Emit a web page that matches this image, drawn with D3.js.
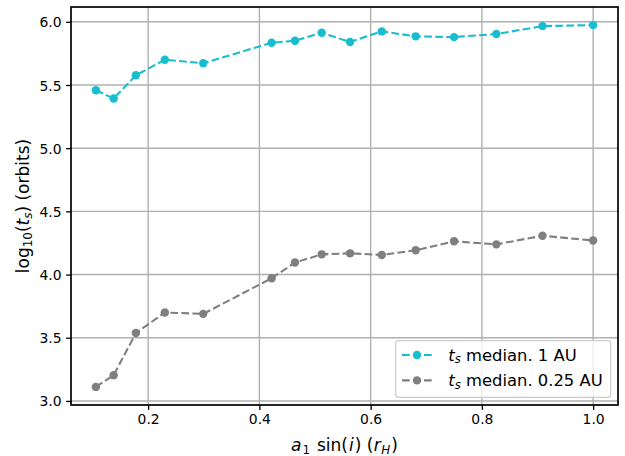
<!DOCTYPE html>
<html><head><meta charset="utf-8">
<script src="https://cdn.jsdelivr.net/npm/d3@7"></script>
<style>body{margin:0;background:#fff}svg{display:block}text{font-family:"DejaVu Sans",sans-serif}</style>
</head><body><svg id="c" width="625" height="456"></svg>
<script>
const xValues = [0.106, 0.138, 0.178, 0.230, 0.299, 0.422, 0.464, 0.512, 0.563, 0.620, 0.681, 0.750, 0.826, 0.909, 1.0];
const series1AU = [5.459, 5.393, 5.577, 5.700, 5.672, 5.834, 5.850, 5.913, 5.840, 5.924, 5.885, 5.879, 5.903, 5.966, 5.974];
const series025AU = [3.111, 3.204, 3.537, 3.700, 3.689, 3.971, 4.095, 4.160, 4.168, 4.155, 4.192, 4.263, 4.239, 4.307, 4.270];
const xTicks = [0.2, 0.4, 0.6, 0.8, 1.0];
const yTicks = [3.0, 3.5, 4.0, 4.5, 5.0, 5.5, 6.0];
const seriesNames = ["median. 1 AU", "median. 0.25 AU"];
const colors = ["#17becf", "#7f7f7f"];

const svg = d3.select("#c");
const L = 71, R = 618, T = 7, B = 405;
const pad = (a, b) => { const m = (b - a) * 0.05; return [a - m, b + m]; };
const x = d3.scaleLinear().domain(pad(d3.min(xValues), d3.max(xValues))).range([L, R]);
const allY = series1AU.concat(series025AU);
const y = d3.scaleLinear().domain(pad(d3.min(allY), d3.max(allY))).range([B, T]);

// grid
const g = svg.append("g");
g.selectAll(".gx").data(xTicks).enter().append("line")
  .attr("x1", d => x(d)).attr("x2", d => x(d)).attr("y1", T).attr("y2", B)
  .attr("stroke", "#b0b0b0").attr("stroke-width", 1.4);
g.selectAll(".gy").data(yTicks).enter().append("line")
  .attr("y1", d => y(d)).attr("y2", d => y(d)).attr("x1", L).attr("x2", R)
  .attr("stroke", "#b0b0b0").attr("stroke-width", 1.4);

// axes
const xAxis = d3.axisBottom(x).tickValues(xTicks).tickFormat(d3.format(".1f")).tickSize(4.9).tickPadding(4.5);
const yAxis = d3.axisLeft(y).tickValues(yTicks).tickFormat(d3.format(".1f")).tickSize(4.9).tickPadding(4.5);
const gx = svg.append("g").attr("transform", `translate(0,${B})`).call(xAxis);
const gy = svg.append("g").attr("transform", `translate(${L},0)`).call(yAxis);
[gx, gy].forEach(a => {
  a.select(".domain").remove();
  a.selectAll("line").attr("stroke", "#000").attr("stroke-width", 1.3);
  a.selectAll("text").attr("font-size", "13.9px").attr("fill", "#000").style("font-family", "DejaVu Sans");
});
gy.selectAll("text").attr("dy", "0.36em");

// lines
const data = [series1AU, series025AU];
data.forEach((s, i) => {
  const pts = xValues.map((xv, j) => [xv, s[j]]);
  svg.append("path").datum(pts)
    .attr("d", d3.line().x(d => x(d[0])).y(d => y(d[1])))
    .attr("fill", "none").attr("stroke", colors[i]).attr("stroke-width", 2.08)
    .attr("stroke-dasharray", "7.7,3.3");
  svg.selectAll(".p" + i).data(pts).enter().append("circle")
    .attr("cx", d => x(d[0])).attr("cy", d => y(d[1])).attr("r", 4.2)
    .attr("fill", colors[i]);
});

// spines
svg.append("rect").attr("x", L).attr("y", T).attr("width", R - L).attr("height", B - T)
  .attr("fill", "none").attr("stroke", "#000").attr("stroke-width", 1.7);

// axis labels
const xl = svg.append("text").attr("x", (L + R) / 2).attr("y", 451).attr("text-anchor", "middle")
  .attr("font-size", "17px").attr("fill", "#000");
xl.append("tspan").attr("font-style", "italic").text("a");
xl.append("tspan").attr("font-size", "11.9px").attr("dy", "3").attr("dx", "1").text("1");
xl.append("tspan").attr("dy", "-3").attr("dx", "1.5").text(" sin(");
xl.append("tspan").attr("font-style", "italic").attr("dx", "1").text("i");
xl.append("tspan").attr("dx", "1").text(") (");
xl.append("tspan").attr("font-style", "italic").attr("dx", "0.5").text("r");
xl.append("tspan").attr("font-style", "italic").attr("font-size", "11.9px").attr("dy", "3").attr("dx", "0.5").text("H");
xl.append("tspan").attr("dy", "-3").attr("dx", "1").text(")");

const yl = svg.append("text").attr("transform", `translate(29,${(T + B) / 2}) rotate(-90)`)
  .attr("text-anchor", "middle").attr("font-size", "17px").attr("fill", "#000");
yl.append("tspan").text("log");
yl.append("tspan").attr("font-size", "11.9px").attr("dy", "3").text("10");
yl.append("tspan").attr("dy", "-3").text("(");
yl.append("tspan").attr("font-style", "italic").text("t");
yl.append("tspan").attr("font-style", "italic").attr("font-size", "11.9px").attr("dy", "3").text("s");
yl.append("tspan").attr("dy", "-3").text(") (orbits)");

// legend
const lg = svg.append("g");
lg.append("rect").attr("x", 395.7).attr("y", 340.7).attr("width", 215).attr("height", 56.6)
  .attr("rx", 3).attr("fill", "#fff").attr("fill-opacity", 0.8).attr("stroke", "#cccccc").attr("stroke-width", 1.2);
seriesNames.forEach((n, i) => {
  const cy = 355 + i * 25.4;
  lg.append("line").attr("x1", 402).attr("x2", 432).attr("y1", cy).attr("y2", cy)
    .attr("stroke", colors[i]).attr("stroke-width", 2.08).attr("stroke-dasharray", "7.7,3.3");
  lg.append("circle").attr("cx", 417).attr("cy", cy).attr("r", 4.2).attr("fill", colors[i]);
  const t = lg.append("text").attr("x", 448.3).attr("y", cy + 5.5).attr("font-size", "16.4px").attr("fill", "#000");
  t.append("tspan").attr("font-style", "italic").text("t");
  t.append("tspan").attr("font-style", "italic").attr("font-size", "11.5px").attr("dy", "2.8").text("s");
  t.append("tspan").attr("dy", "-2.8").text(" " + n);
});
</script></body></html>
